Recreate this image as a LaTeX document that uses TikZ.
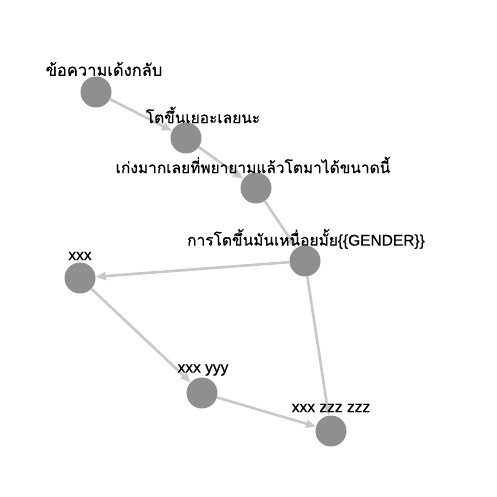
\documentclass[tikz,border=0pt]{standalone}
\usepackage{fontspec}
\setmainfont{Liberation Sans}
\newfontfamily\latn{Liberation Sans}[FakeBold=0.5]
\newfontfamily\thai[Script=Thai,FakeBold=0.5]{Loma}
\usetikzlibrary{arrows.meta}
\definecolor{nodegray}{HTML}{8F8F8F}
\definecolor{edgegray}{HTML}{C8C8C8}
\tikzset{
  vertex/.style={circle,fill=nodegray,minimum size=31pt,inner sep=0pt},
  lbl/.style={inner sep=0pt,font=\fontsize{15.5pt}{18pt}\selectfont,text=black},
  link/.style={draw=edgegray,line width=2.6pt,-{Triangle[length=10pt,width=8pt]}}
}
\begin{document}
\begin{tikzpicture}[x=1pt,y=-1pt]
\useasboundingbox (0,0) rectangle (496,497);
\node[vertex] (n1) at (96,92) {};
\node[vertex] (n2) at (186,138) {};
\node[vertex] (n3) at (256,188) {};
\node[vertex] (n4) at (305,261) {};
\node[vertex] (n5) at (80,278) {};
\node[vertex] (n6) at (202,393) {};
\node[vertex] (n7) at (331,431) {};
\draw[link] (n1) -- (n2);
\draw[link] (n2) -- (n3);
\draw[link] (n3) -- (n4);
\draw[link] (n4) -- (n5);
\draw[link] (n5) -- (n6);
\draw[link] (n6) -- (n7);
\draw[link] (n4) -- (n7);
\node[lbl] (l1) at (104,69) {\thai\fontsize{16.5pt}{18pt}\selectfont ข้อความเด้งกลับ};
\node[lbl] (l2) at (203,115) {\thai โตขึ้นเยอะเลยนะ};
\node[lbl] (l3) at (253,165) {\thai เก่งมากเลยที่พยายามแล้วโตมาได้ขนาดนี้};
\node[lbl] (l4) at (306,239) {{\thai การโตขึ้นมันเหนื่อยมั้ย}{\latn\{\{GENDER\}\}}};
\node[lbl] (l5) at (80,256) {\latn xxx};
\node[lbl] (l6) at (203,370) {\latn xxx yyy};
\node[lbl] (l7) at (331,408) {\latn xxx zzz zzz};
\end{tikzpicture}
\end{document}
